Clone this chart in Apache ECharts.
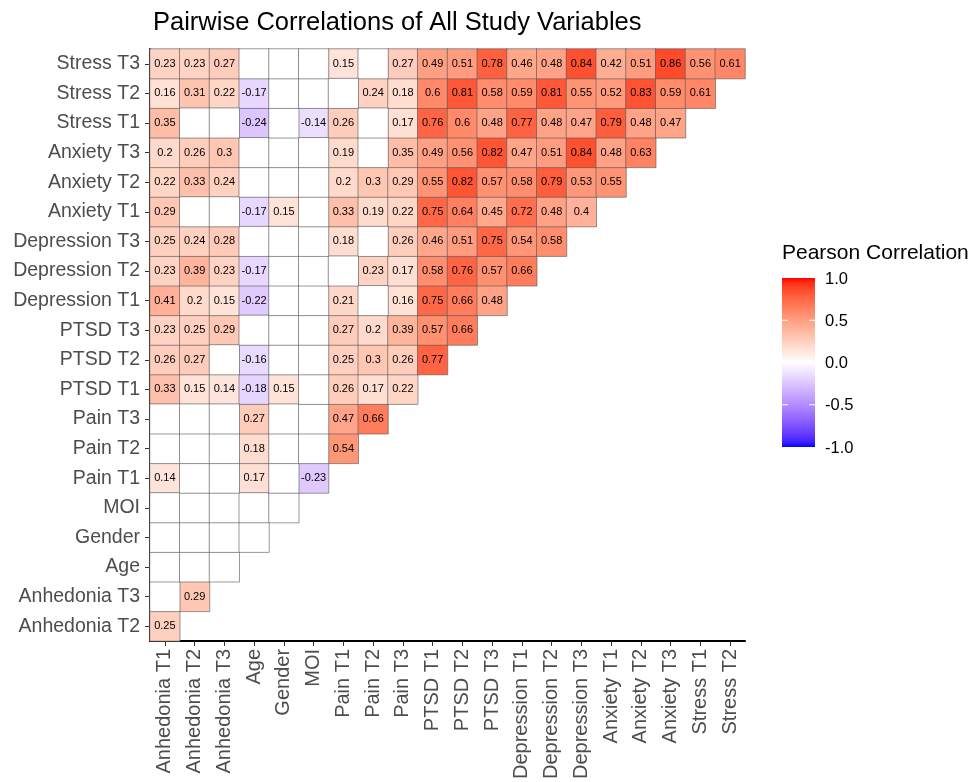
<!DOCTYPE html>
<html>
<head>
<meta charset="utf-8">
<script src="https://cdn.jsdelivr.net/npm/echarts@6/dist/echarts.min.js"></script>
<style>html,body{margin:0;padding:0;background:#fff;}#c{width:974px;height:782px;}</style>
</head>
<body>
<div id="c"></div>
<script>
const xLabels = ['Anhedonia T1','Anhedonia T2','Anhedonia T3','Age','Gender','MOI','Pain T1','Pain T2','Pain T3','PTSD T1','PTSD T2','PTSD T3','Depression T1','Depression T2','Depression T3','Anxiety T1','Anxiety T2','Anxiety T3','Stress T1','Stress T2'];
const yLabels = ['Anhedonia T2','Anhedonia T3','Age','Gender','MOI','Pain T1','Pain T2','Pain T3','PTSD T1','PTSD T2','PTSD T3','Depression T1','Depression T2','Depression T3','Anxiety T1','Anxiety T2','Anxiety T3','Stress T1','Stress T2','Stress T3'];

// one row per y category (bottom to top); null = not significant (blank cell)
const rowAnhedoniaT2 = [0.25];
const rowAnhedoniaT3 = [null, 0.29];
const rowAge = [null, null, null];
const rowGender = [null, null, null, null];
const rowMOI = [null, null, null, null, null];
const rowPainT1 = [0.14, null, null, 0.17, null, -0.23];
const rowPainT2 = [null, null, null, 0.18, null, null, 0.54];
const rowPainT3 = [null, null, null, 0.27, null, null, 0.47, 0.66];
const rowPtsdT1 = [0.33, 0.15, 0.14, -0.18, 0.15, null, 0.26, 0.17, 0.22];
const rowPtsdT2 = [0.26, 0.27, null, -0.16, null, null, 0.25, 0.3, 0.26, 0.77];
const rowPtsdT3 = [0.23, 0.25, 0.29, null, null, null, 0.27, 0.2, 0.39, 0.57, 0.66];
const rowDepT1 = [0.41, 0.2, 0.15, -0.22, null, null, 0.21, null, 0.16, 0.75, 0.66, 0.48];
const rowDepT2 = [0.23, 0.39, 0.23, -0.17, null, null, null, 0.23, 0.17, 0.58, 0.76, 0.57, 0.66];
const rowDepT3 = [0.25, 0.24, 0.28, null, null, null, 0.18, null, 0.26, 0.46, 0.51, 0.75, 0.54, 0.58];
const rowAnxT1 = [0.29, null, null, -0.17, 0.15, null, 0.33, 0.19, 0.22, 0.75, 0.64, 0.45, 0.72, 0.48, 0.4];
const rowAnxT2 = [0.22, 0.33, 0.24, null, null, null, 0.2, 0.3, 0.29, 0.55, 0.82, 0.57, 0.58, 0.79, 0.53, 0.55];
const rowAnxT3 = [0.2, 0.26, 0.3, null, null, null, 0.19, null, 0.35, 0.49, 0.56, 0.82, 0.47, 0.51, 0.84, 0.48, 0.63];
const rowStrT1 = [0.35, null, null, -0.24, null, -0.14, 0.26, null, 0.17, 0.76, 0.6, 0.48, 0.77, 0.48, 0.47, 0.79, 0.48, 0.47];
const rowStrT2 = [0.16, 0.31, 0.22, -0.17, null, null, null, 0.24, 0.18, 0.6, 0.81, 0.58, 0.59, 0.81, 0.55, 0.52, 0.83, 0.59, 0.61];
const rowStrT3 = [0.23, 0.23, 0.27, null, null, null, 0.15, null, 0.27, 0.49, 0.51, 0.78, 0.46, 0.48, 0.84, 0.42, 0.51, 0.86, 0.56, 0.61];

const rows = [rowAnhedoniaT2, rowAnhedoniaT3, rowAge, rowGender, rowMOI, rowPainT1, rowPainT2, rowPainT3,
  rowPtsdT1, rowPtsdT2, rowPtsdT3, rowDepT1, rowDepT2, rowDepT3, rowAnxT1, rowAnxT2, rowAnxT3, rowStrT1, rowStrT2, rowStrT3];

const legendTicks = [1, 0.5, 0, -0.5, -1];
const legendTickLabels = ['1.0', '0.5', '0.0', '-0.5', '-1.0'];

// Lab interpolation (like ggplot2 scale_fill_gradient2)
function srgbToLin(c){ c/=255; return c<=0.04045? c/12.92 : Math.pow((c+0.055)/1.055,2.4); }
function linToSrgb(c){ c = Math.max(0, Math.min(1, c)); const v = c<=0.0031308? 12.92*c : 1.055*Math.pow(c,1/2.4)-0.055; return Math.round(Math.max(0,Math.min(1,v))*255); }
function rgbToLab(r,g,b){
  const R=srgbToLin(r),G=srgbToLin(g),B=srgbToLin(b);
  const X=(0.4124*R+0.3576*G+0.1805*B)/0.95047, Y=(0.2126*R+0.7152*G+0.0722*B), Z=(0.0193*R+0.1192*G+0.9505*B)/1.08883;
  const f=t=> t>0.008856? Math.cbrt(t) : 7.787*t+16/116;
  const fx=f(X), fy=f(Y), fz=f(Z);
  return [116*fy-16, 500*(fx-fy), 200*(fy-fz)];
}
function labToRgb(L,a,b){
  const fy=(L+16)/116, fx=fy+a/500, fz=fy-b/200;
  const inv=t=> t*t*t>0.008856? t*t*t : (t-16/116)/7.787;
  const X=inv(fx)*0.95047, Y=inv(fy), Z=inv(fz)*1.08883;
  const R=3.2406*X-1.5372*Y-0.4986*Z, G=-0.9689*X+1.8758*Y+0.0415*Z, B=0.0557*X-0.2040*Y+1.0570*Z;
  return 'rgb('+linToSrgb(R)+','+linToSrgb(G)+','+linToSrgb(B)+')';
}
const labLow = rgbToLab(0,0,255), labMid = rgbToLab(255,255,255), labHigh = rgbToLab(255,0,0);
function colorAt(v){
  let a, b, t;
  if (v < 0){ a = labMid; b = labLow; t = -v; } else { a = labMid; b = labHigh; t = v; }
  return labToRgb(a[0]+(b[0]-a[0])*t, a[1]+(b[1]-a[1])*t, a[2]+(b[2]-a[2])*t);
}
const NSTOP = 41;
const stops = [];
for (let i = 0; i < NSTOP; i++) stops.push(colorAt(-1 + 2*i/(NSTOP-1)));

const sigData = [], blankData = [];
rows.forEach((row, yi) => {
  row.forEach((v, xi) => {
    if (v === null) blankData.push([xi, yi, 0]);
    else sigData.push([xi, yi, v]);
  });
});

const FONT = 'Liberation Sans, Arial, Helvetica, sans-serif';
const chart = echarts.init(document.getElementById('c'), null, {renderer: 'canvas'});

// legend geometry
const LX = 782, LY = 278, LW = 33, LH = 169;
const grad = new echarts.graphic.LinearGradient(0, 0, 0, 1,
  stops.slice().reverse().map((c, i) => ({offset: i/(NSTOP-1), color: c})));
const legendGraphics = [
  {type: 'text', left: LX, top: 243, style: {text: 'Pearson Correlation', fontSize: 21, fontFamily: FONT, fill: '#000'}},
  {type: 'rect', shape: {x: LX, y: LY, width: LW, height: LH}, style: {fill: grad}}
];
legendTicks.forEach((v, i) => {
  const y = LY + (1 - v)/2*LH;
  if (v !== 1 && v !== -1) {
    legendGraphics.push({type: 'line', shape: {x1: LX, y1: y, x2: LX+6, y2: y}, style: {stroke: '#fff', lineWidth: 1}});
    legendGraphics.push({type: 'line', shape: {x1: LX+LW-6, y1: y, x2: LX+LW, y2: y}, style: {stroke: '#fff', lineWidth: 1}});
  }
  legendGraphics.push({type: 'text', x: LX + LW + 10, y: y + 1, style: {text: legendTickLabels[i], fontSize: 16.5, fontFamily: FONT, fill: '#000', verticalAlign: 'middle'}});
});

chart.setOption({
  animation: false,
  backgroundColor: '#fff',
  title: {text: 'Pairwise Correlations of All Study Variables', left: 148, top: 5,
    textStyle: {fontSize: 25.5, fontWeight: 'normal', color: '#000', fontFamily: FONT}},
  grid: {left: 150, right: 229, top: 49, bottom: 139, containLabel: false},
  xAxis: {
    type: 'category', data: xLabels,
    axisLine: {show: true, lineStyle: {color: '#000', width: 2}},
    axisTick: {show: true, alignWithLabel: true, length: 5, lineStyle: {color: '#333', width: 1}},
    axisLabel: {rotate: 90, interval: 0, fontSize: 20, color: '#4d4d4d', fontFamily: FONT, margin: 8},
    splitLine: {show: false}, splitArea: {show: false}
  },
  yAxis: {
    type: 'category', data: yLabels,
    axisLine: {show: true, lineStyle: {color: '#000', width: 2}},
    axisTick: {show: true, alignWithLabel: true, length: 5, lineStyle: {color: '#333', width: 1}},
    axisLabel: {interval: 0, fontSize: 19.5, color: '#4d4d4d', fontFamily: FONT, margin: 10},
    splitLine: {show: false}, splitArea: {show: false}
  },
  visualMap: [
    {type: 'continuous', min: -1, max: 1, show: false, seriesIndex: 0, inRange: {color: stops}},
    {type: 'continuous', min: 0, max: 1, show: false, seriesIndex: 1, inRange: {color: ['#ffffff', '#ffffff']}}
  ],
  series: [
    {type: 'heatmap', data: sigData,
      itemStyle: {borderColor: '#555', borderWidth: 0.6},
      label: {show: true, fontSize: 11, color: '#000', fontFamily: FONT, formatter: p => String(p.value[2])},
      emphasis: {disabled: true}},
    {type: 'heatmap', data: blankData,
      itemStyle: {borderColor: '#555', borderWidth: 0.6},
      label: {show: false},
      emphasis: {disabled: true}}
  ],
  graphic: legendGraphics
});
</script>
</body>
</html>
